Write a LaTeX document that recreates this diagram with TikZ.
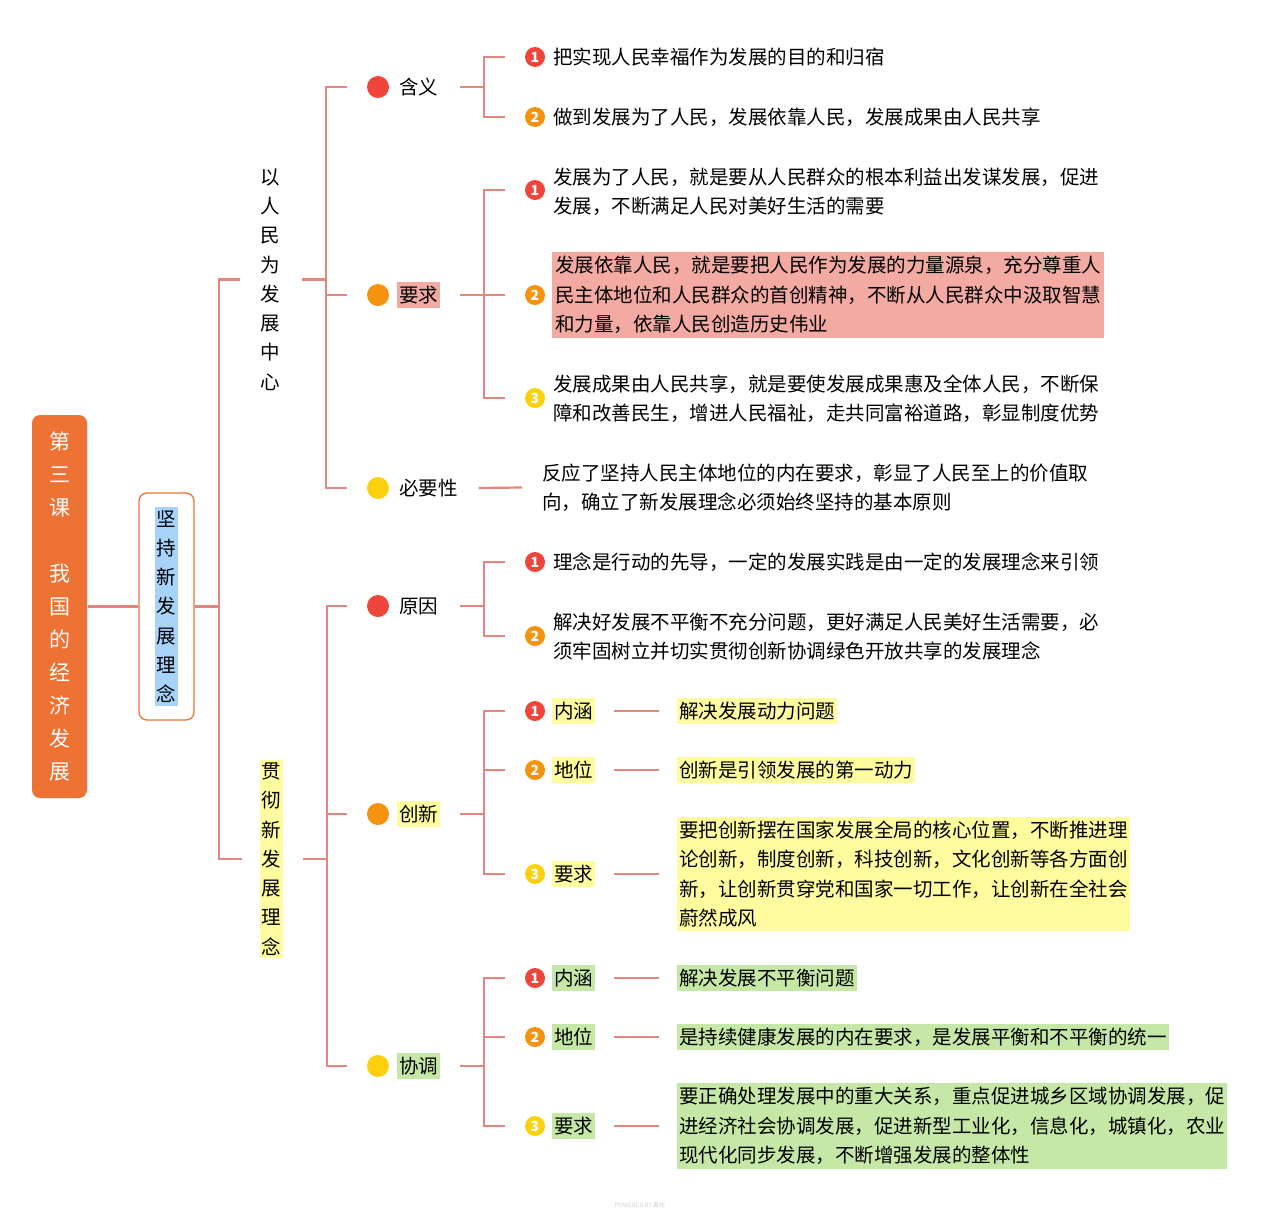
\documentclass[tikz,border=0pt]{standalone}
\usepackage{fontspec}
\setmainfont{Noto Sans CJK SC}
\usetikzlibrary{positioning}
\definecolor{rootc}{HTML}{EE7233}
\definecolor{linec}{HTML}{E3877E}
\definecolor{redc}{HTML}{F0453A}
\definecolor{orgc}{HTML}{F5930F}
\definecolor{yelc}{HTML}{FDD00E}
\definecolor{pinkhl}{HTML}{F2AAA2}
\definecolor{yelhl}{HTML}{FFFCA0}
\definecolor{grnhl}{HTML}{C6E8A6}
\definecolor{bluhl}{HTML}{A7D3FB}
\begin{document}
\begin{tikzpicture}[x=1pt,y=-1pt,line width=2.2pt,
  font=\fontsize{19.5}{29.3}\selectfont,
  link/.style={draw=linec,line width=2.2pt},
  dot/.style={circle,minimum size=22pt,inner sep=0pt},
  badge/.style={circle,minimum size=20pt,inner sep=0pt,text=white,
    font=\fontsize{14}{14}\selectfont\bfseries},
  lbl/.style={anchor=west,inner xsep=2pt,inner ysep=4pt},
  para/.style={anchor=west,align=left,inner xsep=2pt,inner ysep=4pt},
  vtxt/.style={align=center,inner xsep=2pt,inner ysep=3pt}]
  \useasboundingbox (0,0) rectangle (1280,1213);
  % fork from a label to one child, with short gaps at both ends
  \def\fork#1#2{\draw[link] ([xshift=19pt]#1.east) -- ++(24,0) |- ([xshift=-19pt]#2.west);}
  \def\tie#1#2{\draw[link] ([xshift=18pt]#1.east) -- ([xshift=-17pt]#2.west);}
  % root and first level
  \node[fill=rootc,rounded corners=8pt,minimum width=55pt,minimum height=383pt,
    text=white,align=center,font=\fontsize{21}{33}\selectfont]
    (root) at (59.5,606.5) {第\\三\\课\\[33pt]我\\国\\的\\经\\济\\发\\展};
  \node[draw=rootc,line width=1.3pt,rounded corners=8pt,minimum width=55pt,
    minimum height=227pt] (core) at (166.5,606.5) {};
  \node[vtxt,fill=bluhl] (coreT) at (core.center) {坚\\持\\新\\发\\展\\理\\念};
  \draw[link] (root) -- (core);
  % second level
  \node[vtxt] (people) at (270,279.5) {以\\人\\民\\为\\发\\展\\中\\心};
  \node[vtxt,fill=yelhl] (apply) at (271.5,859) {贯\\彻\\新\\发\\展\\理\\念};
  \draw[link] (core.east) -- ++(24,0) |- ([xshift=-17pt]people.west);
  \draw[link] (core.east) -- ++(24,0) |- ([xshift=-17pt]apply.west);
  % third level
  \node[dot,fill=redc] (meaningD) at (378,87) {};
  \node[lbl] (meaning) at (396,87) {含义};
  \node[dot,fill=orgc] (demandD) at (378,295) {};
  \node[lbl,fill=pinkhl] (demand) at (396,295) {要求};
  \node[dot,fill=yelc] (needD) at (378,488) {};
  \node[lbl] (need) at (396,488) {必要性};
  \node[dot,fill=redc] (reasonD) at (378,606) {};
  \node[lbl] (reason) at (396,606) {原因};
  \node[dot,fill=orgc] (innovD) at (378,814) {};
  \node[lbl,fill=yelhl] (innov) at (396,814) {创新};
  \node[dot,fill=yelc] (coordD) at (378,1066) {};
  \node[lbl,fill=grnhl] (coord) at (396,1066) {协调};
  \fork{people}{meaningD}
  \fork{people}{demandD}
  \fork{people}{needD}
  \fork{apply}{reasonD}
  \fork{apply}{innovD}
  \fork{apply}{coordD}
  % 含义
  \node[badge,fill=redc] (meaningA) at (535,57) {1};
  \node[para] (meaningAt) at (550,57) {把实现人民幸福作为发展的目的和归宿};
  \node[badge,fill=orgc] (meaningB) at (535,117) {2};
  \node[para] (meaningBt) at (550,117) {做到发展为了人民，发展依靠人民，发展成果由人民共享};
  \fork{meaning}{meaningA}
  \fork{meaning}{meaningB}
  % 要求
  \node[badge,fill=redc] (demandA) at (535,190) {1};
  \node[para] (demandAt) at (550,191.5) {发展为了人民，就是要从人民群众的根本利益出发谋发展，促进\\发展，不断满足人民对美好生活的需要};
  \node[badge,fill=orgc] (demandB) at (535,295) {2};
  \node[para,fill=pinkhl,inner xsep=3pt] (demandBt) at (551,295) {发展依靠人民，就是要把人民作为发展的力量源泉，充分尊重人\\民主体地位和人民群众的首创精神，不断从人民群众中汲取智慧\\和力量，依靠人民创造历史伟业};
  \node[badge,fill=yelc] (demandC) at (535,398) {3};
  \node[para] (demandCt) at (550,398.5) {发展成果由人民共享，就是要使发展成果惠及全体人民，不断保\\障和改善民生，增进人民福祉，走共同富裕道路，彰显制度优势};
  \fork{demand}{demandA}
  \fork{demand}{demandB}
  \fork{demand}{demandC}
  % 必要性
  \node[para] (needT) at (539,487.5) {反应了坚持人民主体地位的内在要求，彰显了人民至上的价值取\\向，确立了新发展理念必须始终坚持的基本原则};
  \tie{need}{needT}
  % 原因
  \node[badge,fill=redc] (reasonA) at (535,562) {1};
  \node[para] (reasonAt) at (550,562) {理念是行动的先导，一定的发展实践是由一定的发展理念来引领};
  \node[badge,fill=orgc] (reasonB) at (535,636) {2};
  \node[para] (reasonBt) at (550,636.5) {解决好发展不平衡不充分问题，更好满足人民美好生活需要，必\\须牢固树立并切实贯彻创新协调绿色开放共享的发展理念};
  \fork{reason}{reasonA}
  \fork{reason}{reasonB}
  % 创新
  \node[badge,fill=redc] (innovA) at (535,711) {1};
  \node[lbl,fill=yelhl] (innovAl) at (551,711) {内涵};
  \node[para,fill=yelhl] (innovAt) at (676,711) {解决发展动力问题};
  \node[badge,fill=orgc] (innovB) at (535,770) {2};
  \node[lbl,fill=yelhl] (innovBl) at (551,770) {地位};
  \node[para,fill=yelhl] (innovBt) at (676,770) {创新是引领发展的第一动力};
  \node[badge,fill=yelc] (innovC) at (535,874) {3};
  \node[lbl,fill=yelhl] (innovCl) at (551,874) {要求};
  \node[para,fill=yelhl] (innovCt) at (676,874) {要把创新摆在国家发展全局的核心位置，不断推进理\\论创新，制度创新，科技创新，文化创新等各方面创\\新，让创新贯穿党和国家一切工作，让创新在全社会\\蔚然成风};
  \fork{innov}{innovA}
  \fork{innov}{innovB}
  \fork{innov}{innovC}
  \tie{innovAl}{innovAt}
  \tie{innovBl}{innovBt}
  \tie{innovCl}{innovCt}
  % 协调
  \node[badge,fill=redc] (coordA) at (535,978) {1};
  \node[lbl,fill=grnhl] (coordAl) at (551,978) {内涵};
  \node[para,fill=grnhl] (coordAt) at (676,978) {解决发展不平衡问题};
  \node[badge,fill=orgc] (coordB) at (535,1037) {2};
  \node[lbl,fill=grnhl] (coordBl) at (551,1037) {地位};
  \node[para,fill=grnhl] (coordBt) at (676,1037) {是持续健康发展的内在要求，是发展平衡和不平衡的统一};
  \node[badge,fill=yelc] (coordC) at (535,1126) {3};
  \node[lbl,fill=grnhl] (coordCl) at (551,1126) {要求};
  \node[para,fill=grnhl] (coordCt) at (676,1126) {要正确处理发展中的重大关系，重点促进城乡区域协调发展，促\\进经济社会协调发展，促进新型工业化，信息化，城镇化，农业\\现代化同步发展，不断增强发展的整体性};
  \fork{coord}{coordA}
  \fork{coord}{coordB}
  \fork{coord}{coordC}
  \tie{coordAl}{coordAt}
  \tie{coordBl}{coordBt}
  \tie{coordCl}{coordCt}
  \node[text=black!18,font=\fontsize{6}{6}\selectfont] (mark) at (640,1205) {POWERED BY 幕布};
\end{tikzpicture}
\end{document}
